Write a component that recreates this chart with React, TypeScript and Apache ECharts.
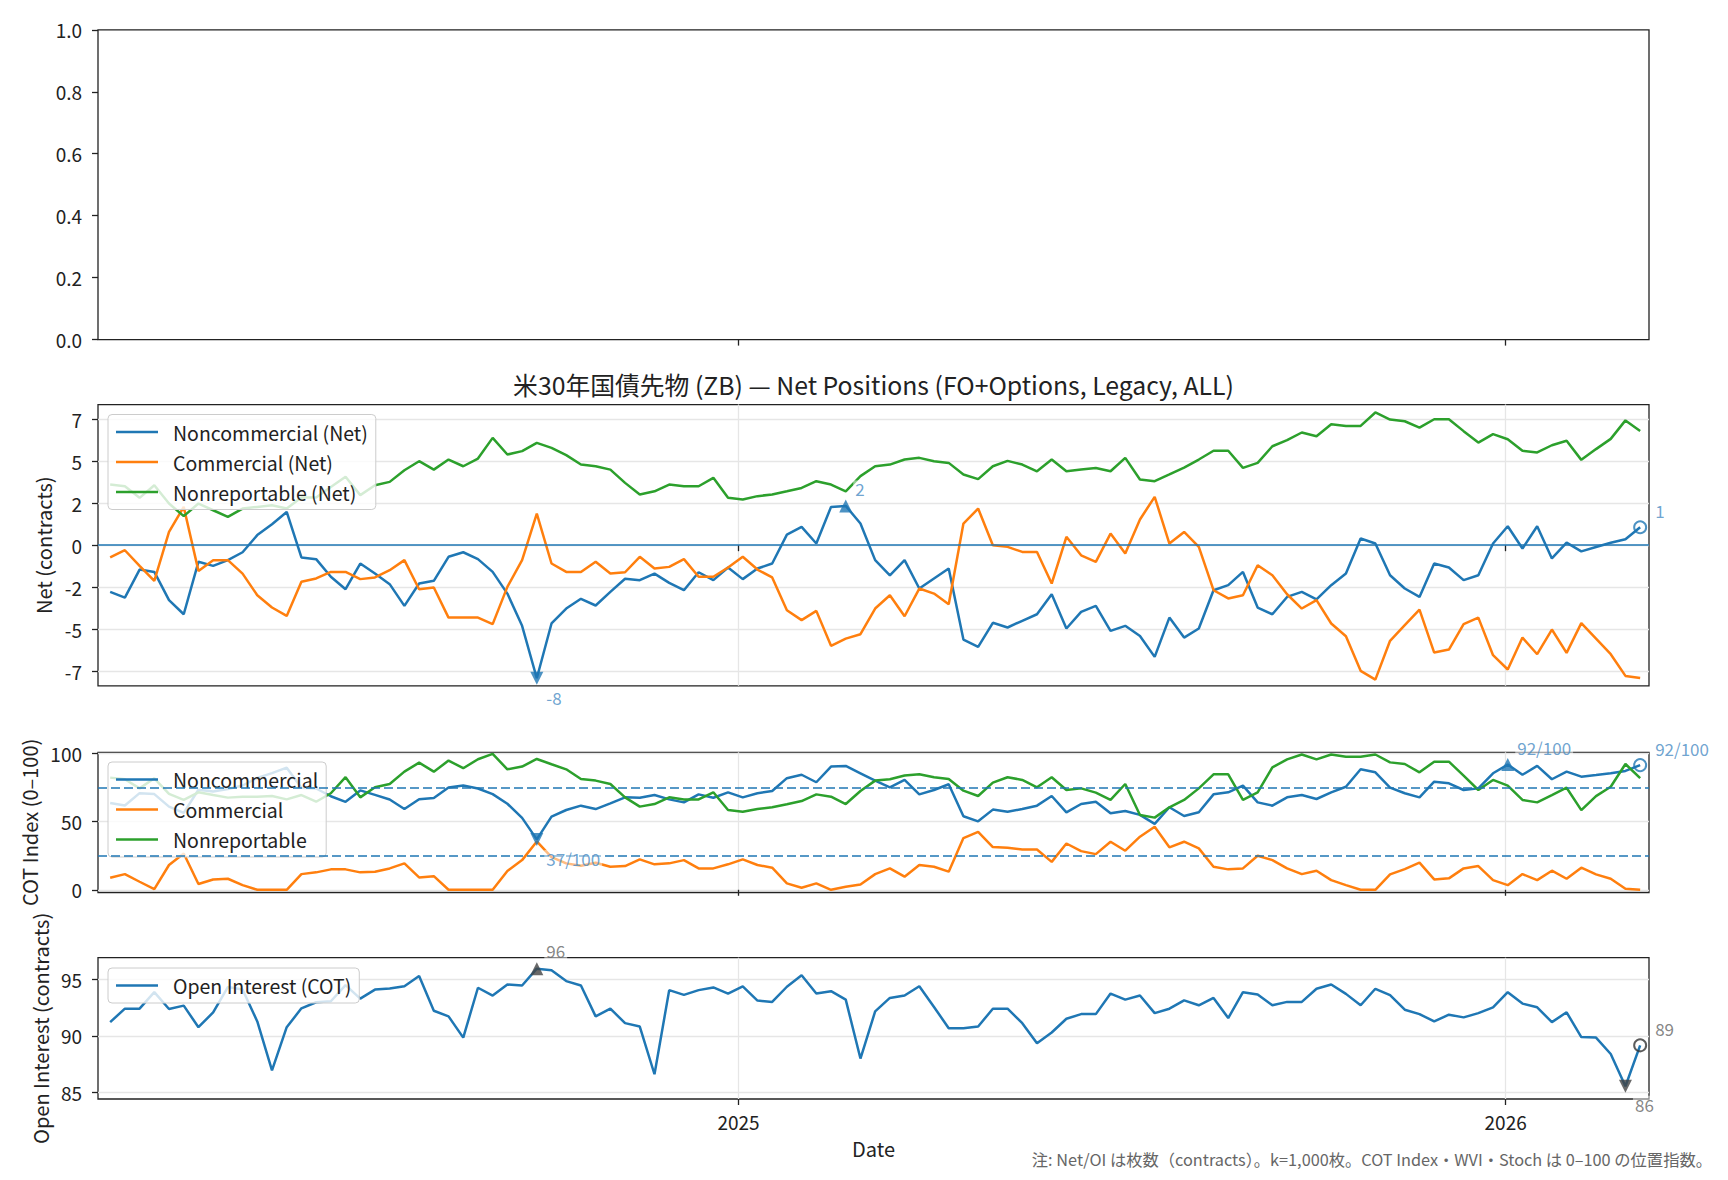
import React, { useEffect, useRef } from "react";
import * as echarts from "echarts";

// ---------- data ----------
const START = Date.UTC(2024, 2, 8); // first weekly observation
const WEEK = 7 * 86400000;
const X_MIN = Date.UTC(2024, 2, 2, 5);
const X_MAX = Date.UTC(2026, 2, 10, 5);
const YEAR_TICKS = [Date.UTC(2025, 0, 1), Date.UTC(2026, 0, 1)];

const NET_TICKS = [-7.5, -5, -2.5, 0, 2.5, 5, 7.5];
const COT_TICKS = [0, 50, 100];
const OI_TICKS = [85, 90, 95];

// net positions, thousands of contracts
const ncNet = [
  -2.78, -3.12, -1.45, -1.59, -3.27, -4.11, -0.99, -1.23, -0.89, -0.42,
  0.6, 1.25, 1.98, -0.73, -0.83, -1.88, -2.62, -1.09, -1.69, -2.32,
  -3.61, -2.28, -2.12, -0.69, -0.42, -0.83, -1.59, -2.88, -4.8, -7.92,
  -4.66, -3.77, -3.19, -3.59, -2.78, -2.0, -2.08, -1.69, -2.24, -2.68,
  -1.61, -2.08, -1.33, -2.02, -1.39, -1.09, 0.63, 1.09, 0.1, 2.28,
  2.34, 1.29, -0.89, -1.79, -0.89, -2.58, -1.98, -1.39, -5.62, -6.05,
  -4.62, -4.9, -4.5, -4.11, -2.92, -4.96, -3.97, -3.61, -5.1, -4.8,
  -5.4, -6.65, -4.31, -5.5, -4.96, -2.68, -2.38, -1.59, -3.71, -4.11,
  -3.08, -2.78, -3.23, -2.38, -1.69, 0.4, 0.1, -1.79, -2.58, -3.08,
  -1.09, -1.33, -2.08, -1.79, 0.1, 1.13, -0.2, 1.13, -0.79, 0.15,
  -0.37, -0.11, 0.15, 0.35, 1.07,
];
const cmNet = [
  -0.73, -0.3, -1.23, -2.13, 0.79, 2.28, -1.53, -0.89, -0.89, -1.69,
  -2.98, -3.71, -4.21, -2.18, -1.98, -1.59, -1.59, -2.02, -1.92, -1.49,
  -0.89, -2.62, -2.52, -4.31, -4.31, -4.31, -4.7, -2.48, -0.89, 1.88,
  -1.09, -1.59, -1.59, -0.99, -1.69, -1.61, -0.69, -1.39, -1.29, -0.83,
  -1.88, -1.88, -1.33, -0.69, -1.45, -1.92, -3.87, -4.46, -3.91, -5.99,
  -5.56, -5.3, -3.77, -2.98, -4.23, -2.58, -2.88, -3.51, 1.29, 2.18,
  0.0, -0.1, -0.4, -0.4, -2.28, 0.5, -0.6, -0.99, 0.69, -0.5,
  1.53, 2.88, 0.1, 0.79, -0.1, -2.68, -3.17, -2.98, -1.19, -1.79,
  -2.92, -3.77, -3.27, -4.66, -5.42, -7.48, -8.0, -5.69, -4.76, -3.83,
  -6.39, -6.21, -4.7, -4.31, -6.55, -7.4, -5.5, -6.49, -5.02, -6.41,
  -4.64, -5.56, -6.49, -7.78, -7.9,
];
const nrNet = [
  3.61, 3.51, 2.82, 3.57, 2.48, 1.73, 2.48, 2.08, 1.69, 2.18,
  2.28, 2.38, 2.18, 2.84, 2.84, 3.47, 4.07, 2.98, 3.57, 3.77,
  4.46, 5.0, 4.5, 5.1, 4.7, 5.16, 6.39, 5.4, 5.6, 6.09,
  5.79, 5.36, 4.8, 4.7, 4.5, 3.71, 3.02, 3.21, 3.61, 3.51,
  3.51, 4.01, 2.82, 2.72, 2.92, 3.02, 3.21, 3.41, 3.81, 3.61,
  3.21, 4.11, 4.7, 4.8, 5.1, 5.2, 5.0, 4.9, 4.21, 3.93,
  4.7, 5.02, 4.8, 4.4, 5.1, 4.4, 4.5, 4.6, 4.4, 5.2,
  3.91, 3.81, 4.21, 4.62, 5.1, 5.62, 5.62, 4.6, 4.9, 5.89,
  6.25, 6.71, 6.49, 7.2, 7.1, 7.1, 7.9, 7.48, 7.38, 7.0,
  7.5, 7.5, 6.79, 6.11, 6.61, 6.31, 5.62, 5.52, 5.95, 6.22,
  5.08, 5.72, 6.33, 7.43, 6.8,
];

// COT index, 0-100
const ncIdx = [
  63.8, 61.9, 71.0, 70.3, 61.1, 56.5, 73.5, 72.2, 74.1, 76.6,
  82.2, 85.7, 89.7, 74.9, 74.4, 68.7, 64.6, 73.0, 69.7, 66.3,
  59.3, 66.5, 67.4, 75.1, 76.6, 74.4, 70.3, 63.2, 52.8, 37.0,
  53.7, 58.6, 61.8, 59.3, 63.5, 67.9, 67.6, 69.6, 66.4, 64.2,
  70.1, 67.6, 71.6, 67.9, 70.9, 72.6, 82.0, 84.5, 79.0, 90.5,
  91.0, 85.6, 80.2, 75.3, 80.7, 70.1, 73.3, 77.5, 54.0, 50.3,
  58.9, 57.4, 59.3, 61.8, 68.9, 56.9, 63.0, 64.7, 56.2, 57.9,
  55.0, 48.4, 60.6, 54.2, 56.9, 70.1, 71.6, 76.5, 64.2, 61.8,
  67.9, 69.6, 66.7, 71.6, 75.7, 88.5, 86.3, 75.0, 70.9, 67.9,
  79.4, 78.2, 73.3, 74.5, 85.6, 92.0, 84.5, 91.0, 81.2, 86.8,
  83.1, 84.3, 85.6, 87.3, 91.6,
];
const cmIdx = [
  8.8, 11.5, 5.9, 0.5, 18.2, 26.7, 4.2, 7.6, 8.1, 3.4,
  0, 0, 0, 11.5, 12.8, 15.0, 15.0, 12.8, 13.3, 15.7,
  19.4, 9.1, 10.0, 0, 0, 0, 0, 13.8, 21.8, 35.5,
  24.0, 19.4, 17.7, 19.9, 16.9, 17.4, 22.3, 18.7, 19.4, 21.8,
  15.7, 15.7, 18.7, 22.3, 18.2, 16.2, 4.7, 1.5, 4.7, 0,
  2.2, 3.9, 11.5, 15.7, 9.6, 18.2, 16.9, 13.3, 38.0, 42.6,
  31.4, 30.9, 29.6, 29.6, 20.5, 34.0, 28.4, 26.2, 35.3, 28.7,
  39.0, 46.3, 31.2, 35.3, 30.4, 16.9, 15.0, 15.7, 25.0, 21.8,
  15.7, 11.5, 14.0, 7.1, 3.4, 0, 0, 11.3, 15.2, 19.9,
  7.6, 8.4, 15.7, 17.4, 7.1, 3.4, 11.5, 7.1, 14.0, 8.1,
  16.2, 11.3, 8.1, 0.8, 0,
];
const nrIdx = [
  82.4, 81.2, 74.5, 81.9, 70.4, 66.0, 71.6, 69.6, 67.7, 68.4,
  68.4, 68.9, 66.4, 69.6, 64.7, 70.9, 82.7, 67.9, 75.3, 77.7,
  86.8, 93.4, 86.8, 94.9, 89.3, 95.9, 99.8, 88.5, 90.5, 96.1,
  92.2, 88.5, 81.4, 80.2, 77.7, 67.9, 61.1, 63.0, 67.9, 66.4,
  66.4, 71.6, 58.6, 57.4, 59.3, 60.6, 62.8, 65.2, 70.1, 68.4,
  63.0, 72.6, 80.2, 81.2, 83.9, 84.8, 82.7, 81.4, 72.8, 68.9,
  78.7, 82.7, 80.7, 75.3, 82.7, 73.3, 74.5, 71.4, 66.0, 77.7,
  55.0, 53.0, 60.6, 66.0, 74.5, 84.8, 84.8, 66.0, 71.6, 89.9,
  95.8, 99.4, 95.8, 99.4, 97.8, 97.8, 99.4, 93.6, 92.4, 86.3,
  94.1, 94.1, 83.9, 73.3, 80.7, 76.5, 66.0, 64.2, 69.5, 75.0,
  58.5, 68.8, 75.7, 92.4, 82.0,
];

// open interest, thousands of contracts
const oi = [
  91.22, 92.41, 92.41, 93.87, 92.38, 92.68, 90.77, 92.08, 94.32, 94.11,
  91.28, 86.96, 90.77, 92.44, 92.98, 93.07, 94.5, 93.3, 94.1, 94.2,
  94.4, 95.3, 92.23, 91.73, 89.85, 94.26, 93.57, 94.55, 94.46, 95.95,
  95.8, 94.85, 94.46, 91.73, 92.41, 91.13, 90.83, 86.61, 94.05, 93.63,
  94.05, 94.29, 93.75, 94.38, 93.13, 93.01, 94.35, 95.36, 93.75, 93.96,
  93.21, 88.0, 92.17, 93.36, 93.57, 94.4, 92.56, 90.68, 90.68, 90.83,
  92.41, 92.41, 91.13, 89.35, 90.3, 91.52, 91.93, 91.93, 93.75, 93.21,
  93.57, 92.02, 92.41, 93.15, 92.71, 93.36, 91.58, 93.87, 93.66, 92.71,
  93.01, 93.01, 94.17, 94.55, 93.72, 92.71, 94.17, 93.6, 92.32, 91.93,
  91.28, 91.88, 91.64, 92.02, 92.53, 93.87, 92.86, 92.53, 91.22, 92.09,
  89.9, 89.85, 88.4, 85.55, 89.17,
];

const TITLE = "米30年国債先物 (ZB) — Net Positions (FO+Options, Legacy, ALL)";
const NOTE = "注: Net/OI は枚数（contracts）。k=1,000枚。COT Index・WVI・Stoch は 0–100 の位置指数。";

// ---------- styling ----------
const FONT = "'Noto Sans CJK JP', 'Noto Sans', sans-serif";
const C0 = "#1f77b4";
const C1 = "#ff7f0e";
const C2 = "#2ca02c";
const INK = "#222222";
const GRIDC = "#e6e6e6";
const ANN_BLUE = "#4a8cc4";
const ANN_GRAY = "#666666";
const MK_GRAY = "#444444";
const TICK_FS = 19;
const NAME_FS = 20;

const ts = (i: number) => START + i * WEEK;
const pairs = (arr: number[]) => arr.map((v, i) => [ts(i), v]);
const argMin = (arr: number[]) => arr.reduce((b, v, i) => (v < arr[b] ? i : b), 0);
const argMax = (arr: number[]) => arr.reduce((b, v, i) => (v > arr[b] ? i : b), 0);

function marker(
  axis: number,
  arr: number[],
  idx: number,
  kind: "up" | "down" | "ring",
  color: string,
  text: string,
  textColor: string,
  dy: number
) {
  const ring = kind === "ring";
  return {
    type: "scatter",
    xAxisIndex: axis,
    yAxisIndex: axis,
    silent: true,
    z: 6,
    data: [[ts(idx), arr[idx]]],
    symbol: ring ? "circle" : "triangle",
    symbolRotate: kind === "down" ? 180 : 0,
    symbolSize: ring ? 12 : 13,
    itemStyle: ring
      ? { color: "rgba(255,255,255,0)", borderColor: color, borderWidth: 2 }
      : { color },
    label: {
      show: true,
      position: "right",
      distance: ring ? 6 : 1,
      offset: [0, dy],
      formatter: text,
      color: textColor,
      fontSize: 17,
      fontFamily: FONT,
      backgroundColor: "rgba(255,255,255,0.6)",
      padding: [0, 2],
    },
  };
}

function lineSeries(name: string, axis: number, arr: number[], color: string, extra: any = {}) {
  return {
    name,
    type: "line",
    xAxisIndex: axis,
    yAxisIndex: axis,
    data: pairs(arr),
    symbol: "none",
    showSymbol: false,
    lineStyle: { color, width: 2.5 },
    itemStyle: { color },
    z: 3,
    ...extra,
  };
}

const GRIDS = [
  { top: 29.8, height: 309.8 },
  { top: 404.6, height: 281.2 },
  { top: 752.3, height: 140.2 },
  { top: 957.7, height: 141.3 },
];

function legendBox(names: string[], top: number) {
  return {
    data: names,
    orient: "vertical",
    left: 108,
    top,
    icon: "rect",
    itemWidth: 42,
    itemHeight: 2.6,
    itemGap: 10,
    padding: [7.5, 8, 7.5, 8],
    backgroundColor: "rgba(255,255,255,0.8)",
    borderColor: "#cccccc",
    borderWidth: 1,
    borderRadius: 4,
    selectedMode: false,
    textStyle: {
      fontSize: 19.5,
      lineHeight: 20,
      color: INK,
      fontFamily: FONT,
      padding: [0, 0, 0, 10],
    },
  };
}

function buildOption() {
  const xAxes = GRIDS.map((_, k) => ({
    type: "value",
    gridIndex: k,
    min: X_MIN,
    max: X_MAX,
    axisLine: { show: false },
    axisTick: {
      show: true,
      customValues: YEAR_TICKS,
      length: 6,
      lineStyle: { color: INK, width: 1.3 },
    },
    axisLabel: {
      show: k === 3,
      customValues: YEAR_TICKS,
      formatter: (v: number) => String(new Date(v).getUTCFullYear()),
      margin: 13,
      fontSize: TICK_FS,
      color: INK,
      fontFamily: FONT,
    },
    splitLine: { show: k > 0, lineStyle: { color: GRIDC, width: 1.3 } },
    name: k === 3 ? "Date" : "",
    nameLocation: "middle",
    nameGap: 39,
    nameTextStyle: { fontSize: NAME_FS, color: INK, fontFamily: FONT },
  }));

  const yCommon = (k: number) => ({
    type: "value",
    gridIndex: k,
    axisLine: { show: false },
    axisTick: { show: true, length: 6, lineStyle: { color: INK, width: 1.3 } },
    axisLabel: { fontSize: TICK_FS, color: INK, fontFamily: FONT, margin: 16 },
    splitLine: { show: true, lineStyle: { color: GRIDC, width: 1.3 } },
    nameLocation: "middle",
    nameTextStyle: { fontSize: NAME_FS, color: INK, fontFamily: FONT },
  });

  const yAxes = [
    {
      ...yCommon(0),
      min: 0,
      max: 1,
      interval: 0.2,
      splitLine: { show: false },
      axisLabel: { ...yCommon(0).axisLabel, formatter: (v: number) => v.toFixed(1) },
    },
    {
      ...yCommon(1),
      min: -8.37,
      max: 8.37,
      axisTick: { ...yCommon(1).axisTick, customValues: NET_TICKS },
      axisLabel: {
        ...yCommon(1).axisLabel,
        customValues: NET_TICKS,
        formatter: (v: number) => String(Math.trunc(v)),
      },
      name: "Net (contracts)",
      nameGap: 43,
    },
    {
      ...yCommon(2),
      min: -2,
      max: 101,
      axisTick: { ...yCommon(2).axisTick, customValues: COT_TICKS },
      axisLabel: { ...yCommon(2).axisLabel, customValues: COT_TICKS },
      name: "COT Index (0–100)",
      nameGap: 57,
    },
    {
      ...yCommon(3),
      min: 84.42,
      max: 96.92,
      axisTick: { ...yCommon(3).axisTick, customValues: OI_TICKS },
      axisLabel: { ...yCommon(3).axisLabel, customValues: OI_TICKS },
      name: "Open Interest (contracts)",
      nameGap: 45,
    },
  ];

  const last = ncNet.length - 1;
  const ncMin = argMin(ncNet);
  const ncMax = argMax(ncNet);
  const ciMin = argMin(ncIdx);
  const ciMax = argMax(ncIdx);
  const oiMin = argMin(oi);
  const oiMax = argMax(oi);

  const series: any[] = [
    {
      type: "line",
      xAxisIndex: 0,
      yAxisIndex: 0,
      data: [],
      silent: true,
    },
    lineSeries("Noncommercial (Net)", 1, ncNet, C0, {
      markLine: {
        silent: true,
        symbol: ["none", "none"],
        label: { show: false },
        lineStyle: { color: C0, width: 1.5, type: "solid" },
        data: [{ yAxis: 0 }],
      },
    }),
    lineSeries("Commercial (Net)", 1, cmNet, C1),
    lineSeries("Nonreportable (Net)", 1, nrNet, C2),
    lineSeries("Noncommercial", 2, ncIdx, C0, {
      markLine: {
        silent: true,
        symbol: ["none", "none"],
        label: { show: false },
        lineStyle: { color: C0, width: 1.5, type: [9, 4] },
        data: [{ yAxis: 75 }, { yAxis: 25 }],
      },
    }),
    lineSeries("Commercial", 2, cmIdx, C1),
    lineSeries("Nonreportable", 2, nrIdx, C2),
    lineSeries("Open Interest (COT)", 3, oi, C0),
    marker(1, ncNet, ncMin, "down", C0, String(Math.round(ncNet[ncMin])), ANN_BLUE, 19),
    marker(1, ncNet, ncMax, "up", C0, String(Math.round(ncNet[ncMax])), ANN_BLUE, -17),
    marker(1, ncNet, last, "ring", C0, String(Math.round(ncNet[last])), ANN_BLUE, -17),
    marker(2, ncIdx, ciMin, "down", C0, `${Math.round(ncIdx[ciMin])}/100`, ANN_BLUE, 19),
    marker(2, ncIdx, ciMax, "up", C0, `${Math.round(ncIdx[ciMax])}/100`, ANN_BLUE, -17),
    marker(2, ncIdx, last, "ring", C0, `${Math.round(ncIdx[last])}/100`, ANN_BLUE, -17),
    marker(3, oi, oiMax, "up", MK_GRAY, String(Math.round(oi[oiMax])), ANN_GRAY, -18),
    marker(3, oi, oiMin, "down", MK_GRAY, String(Math.round(oi[oiMin])), ANN_GRAY, 18),
    marker(3, oi, last, "ring", "#333333", String(Math.round(oi[last])), ANN_GRAY, -17),
  ];

  return {
    animation: false,
    backgroundColor: "#ffffff",
    textStyle: { fontFamily: FONT },
    grid: GRIDS.map((g) => ({
      left: 98,
      width: 1551,
      top: g.top,
      height: g.height,
      show: true,
      borderColor: INK,
      borderWidth: 1.3,
      backgroundColor: "transparent",
      containLabel: false,
    })),
    xAxis: xAxes,
    yAxis: yAxes,
    legend: [
      legendBox(["Noncommercial (Net)", "Commercial (Net)", "Nonreportable (Net)"], 414.5),
      legendBox(["Noncommercial", "Commercial", "Nonreportable"], 762),
      legendBox(["Open Interest (COT)"], 968),
    ],
    graphic: [
      {
        type: "text",
        x: 873.5,
        y: 384,
        z: 10,
        style: {
          text: TITLE,
          fontSize: 24.8,
          fill: INK,
          align: "center",
          verticalAlign: "middle",
          fontFamily: FONT,
        },
      },
      {
        type: "text",
        x: 1712,
        y: 1159,
        z: 10,
        style: {
          text: NOTE,
          fontSize: 16.3,
          fill: ANN_GRAY,
          align: "right",
          verticalAlign: "middle",
          fontFamily: FONT,
        },
      },
    ],
    series,
  };
}

export default function App() {
  const ref = useRef<HTMLDivElement>(null);
  useEffect(() => {
    if (!ref.current) return;
    const chart = echarts.init(ref.current, undefined, { renderer: "svg" });
    chart.setOption(buildOption() as any);
    return () => chart.dispose();
  }, []);
  return (
    <div
      ref={ref}
      style={{ position: "fixed", left: 0, top: 0, width: 1728, height: 1180, background: "#fff" }}
    />
  );
}
